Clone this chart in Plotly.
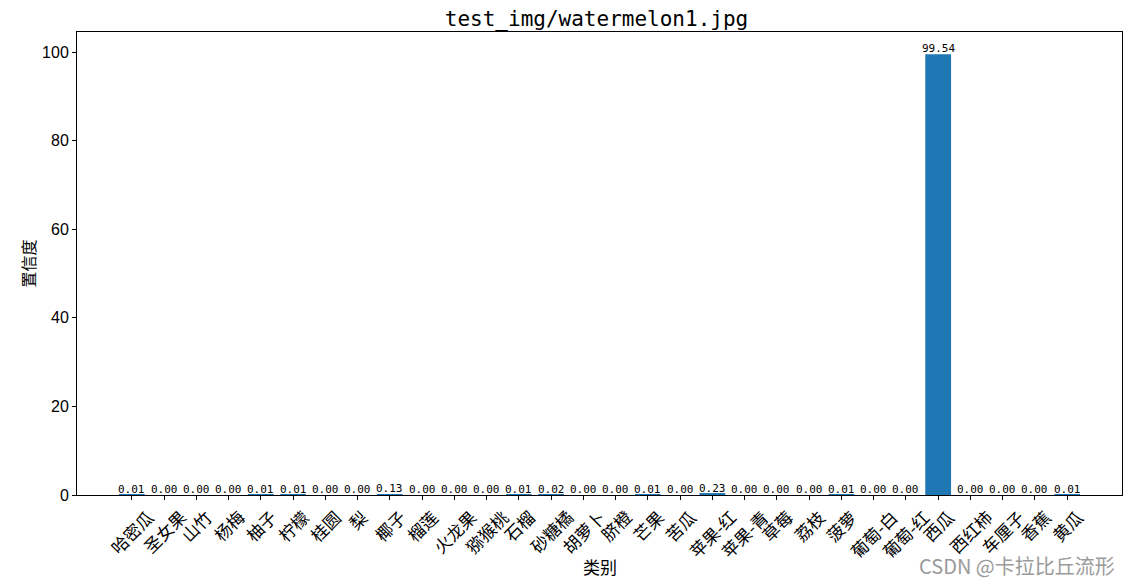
import plotly.graph_objects as go

categories = ["哈密瓜", "圣女果", "山竹", "杨梅", "柚子", "柠檬", "桂圆", "梨", "椰子", "榴莲",
              "火龙果", "猕猴桃", "石榴", "砂糖橘", "胡萝卜", "脐橙", "芒果", "苦瓜", "苹果-红", "苹果-青",
              "草莓", "荔枝", "菠萝", "葡萄-白", "葡萄-红", "西瓜", "西红柿", "车厘子", "香蕉", "黄瓜"]
confidence = [0.01, 0.00, 0.00, 0.00, 0.01, 0.01, 0.00, 0.00, 0.13, 0.00,
              0.00, 0.00, 0.01, 0.02, 0.00, 0.00, 0.01, 0.00, 0.23, 0.00,
              0.00, 0.00, 0.01, 0.00, 0.00, 99.54, 0.00, 0.00, 0.00, 0.01]
title_text = "test_img/watermelon1.jpg"
x_title = "类别"
y_title = "置信度"
watermark = "CSDN @卡拉比丘流形"
y_ticks = [0, 20, 40, 60, 80, 100]

CJK = "Noto Sans CJK SC, SimHei, sans-serif"
MONO = "DejaVu Sans Mono, monospace"

idx = list(range(len(categories)))

fig = go.Figure()
fig.add_trace(go.Bar(x=idx, y=confidence, width=0.8, marker=dict(color="#1f77b4", line=dict(width=0)),
                     hoverinfo="x+y"))

annotations = []
for i, (c, v) in enumerate(zip(categories, confidence)):
    annotations.append(dict(x=i, y=v, xref="x", yref="y", text=f"{v:.2f}", showarrow=False,
                            yanchor="bottom", xanchor="center", yshift=-3,
                            font=dict(family=MONO, size=11, color="black")))
    annotations.append(dict(x=i, y=0, xref="x", yref="paper", text=c, showarrow=False,
                            textangle=-45, xanchor="center", yanchor="top", yshift=-7,
                            font=dict(family=CJK, size=17, color="black")))
annotations.append(dict(x=0.5, y=0, xref="paper", yref="paper", text=x_title, showarrow=False,
                        xanchor="center", yanchor="middle", yshift=-71,
                        font=dict(family=CJK, size=17, color="black")))
annotations.append(dict(x=1.0, y=0, xref="paper", yref="paper", text=watermark, showarrow=False,
                        xanchor="right", yanchor="middle", yshift=-70, xshift=-5,
                        font=dict(family=CJK, size=20, color="#9a9a9a")))

fig.update_layout(
    width=1133, height=584,
    margin=dict(l=77, r=11, t=32, b=89),
    plot_bgcolor="white", paper_bgcolor="white",
    showlegend=False,
    title=dict(text=title_text, x=0.5265, xanchor="center", y=0.968, yanchor="middle",
               pad=dict(t=0, b=0, l=0, r=0),
               font=dict(family=MONO, size=21, color="black")),
    xaxis=dict(range=[-1.7, 30.7], tickvals=idx, showticklabels=False, ticks="outside", ticklen=4,
               tickcolor="black", showline=True, linecolor="black", linewidth=1, mirror=True,
               showgrid=False, zeroline=False),
    yaxis=dict(range=[0, 104.55], tickvals=y_ticks, ticks="outside", ticklen=4, tickcolor="black",
               showline=True, linecolor="black", linewidth=1, mirror=True, showgrid=False,
               zeroline=False, tickfont=dict(family="Liberation Sans, Arial", size=16, color="black"),
               title=dict(text=y_title, font=dict(family=CJK, size=16, color="black"), standoff=2)),
    annotations=annotations,
    bargap=0.2,
)

fig.write_html("out.html", config={"displayModeBar": False},
               post_script="document.body.style.margin='0px';")
